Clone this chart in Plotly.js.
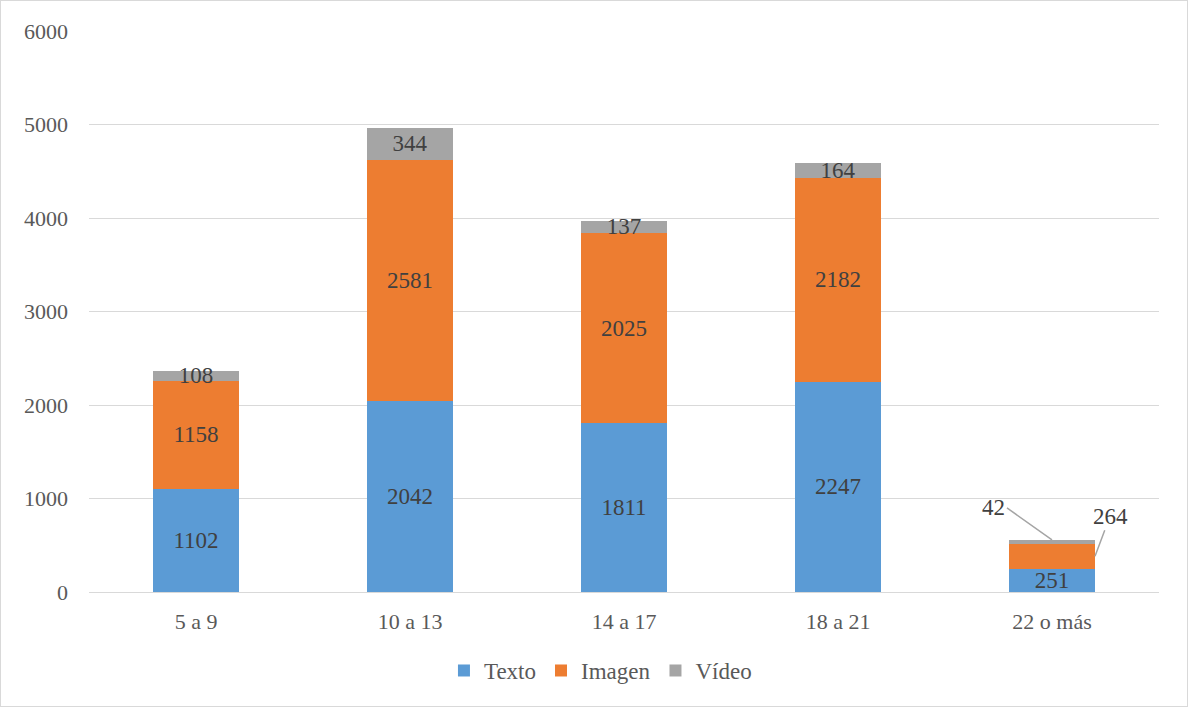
<!DOCTYPE html>
<html>
<head>
<meta charset="utf-8">
<script src="https://cdn.plot.ly/plotly-3.0.1.min.js"></script>
<style>
html,body{margin:0;padding:0;background:#fff;}
#chart{width:1186px;height:705px;border:1px solid #D9D9D9;}
</style>
</head>
<body>
<div id="chart"></div>
<script>
const categories = ['5 a 9', '10 a 13', '14 a 17', '18 a 21', '22 o más'];
const texto  = [1102, 2042, 1811, 2247, 251];
const imagen = [1158, 2581, 2025, 2182, 264];
const video  = [108, 344, 137, 164, 42];
const yTicks = [0, 1000, 2000, 3000, 4000, 5000, 6000];

const FONT = '"Liberation Serif", "Times New Roman", serif';
const TXT = '#404040';
const AX = '#595959';
const last = categories.length - 1;

function labels(vals, hideLast) {
  return vals.map((v, i) => (hideLast && i === last) ? '' : String(v));
}

const common = {
  type: 'bar',
  x: categories,
  textposition: 'inside',
  insidetextanchor: 'middle',
  constraintext: 'none',
  textfont: {family: FONT, size: 23, color: TXT},
  hoverinfo: 'x+y+name'
};

const traces = [
  Object.assign({}, common, {name: 'Texto', y: texto, text: labels(texto, false), marker: {color: '#5B9BD5'}}),
  Object.assign({}, common, {name: 'Imagen', y: imagen, text: labels(imagen, true), marker: {color: '#ED7D31'}}),
  Object.assign({}, common, {name: 'Vídeo', y: video, text: labels(video, true), marker: {color: '#A5A5A5'}})
];

const annotations = [
  {
    x: categories[last], y: texto[last] + imagen[last] + video[last],
    xref: 'x', yref: 'y',
    text: String(video[last]),
    showarrow: true, arrowhead: 0, arrowwidth: 1.5, arrowcolor: '#A5A5A5',
    ax: -45, ay: -32, xanchor: 'right',
    font: {family: FONT, size: 23, color: TXT}
  },
  {
    x: categories[last], y: texto[last] + imagen[last] / 2,
    xref: 'x', yref: 'y', xshift: 43,
    text: String(imagen[last]),
    showarrow: true, arrowhead: 0, arrowwidth: 1.5, arrowcolor: '#A5A5A5',
    ax: 15, ay: -40,
    font: {family: FONT, size: 23, color: TXT}
  }
];

const layout = {
  width: 1186, height: 705,
  margin: {l: 88, r: 28, t: 30, b: 114},
  barmode: 'stack',
  bargap: 0.6,
  paper_bgcolor: '#fff',
  plot_bgcolor: '#fff',
  font: {family: FONT, color: AX, size: 22},
  xaxis: {
    showgrid: false, showline: false, ticks: '',
    ticklabelstandoff: 14,
    tickfont: {family: FONT, size: 22, color: AX}
  },
  yaxis: {
    range: [0, 6000],
    tickvals: yTicks, ticktext: yTicks.map(String),
    showgrid: true, gridcolor: '#D9D9D9', gridwidth: 1,
    zeroline: true, zerolinecolor: '#D9D9D9', zerolinewidth: 1,
    ticks: '', ticklen: 0,
    ticklabelstandoff: 20,
    tickfont: {family: FONT, size: 22, color: AX}
  },
  showlegend: true,
  legend: {
    orientation: 'h', x: 0.478, xanchor: 'center', y: -0.14, yanchor: 'middle',
    traceorder: 'normal',
    font: {family: FONT, size: 23, color: AX},
    itemwidth: 30
  },
  annotations: annotations
};

Plotly.newPlot('chart', traces, layout, {displayModeBar: false, staticPlot: true});
</script>
</body>
</html>
